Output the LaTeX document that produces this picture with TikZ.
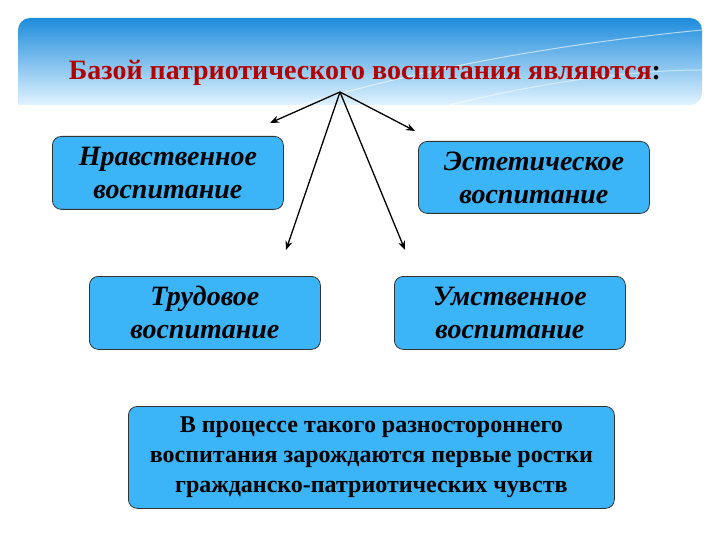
\documentclass[tikz,border=0pt]{standalone}
\usepackage{fontspec}
\setmainfont{Liberation Serif}
\usetikzlibrary{arrows.meta}
\begin{document}
\begin{tikzpicture}[x=1pt,y=-1pt,
  box/.style={draw=black!80,line width=0.8pt,fill={rgb,255:red,59;green,180;blue,248},rounded corners=9pt,align=center,font=\fontsize{28}{33}\selectfont\bfseries\itshape,anchor=north west,inner sep=0pt},
  arr/.style={-{Stealth[length=9pt,width=7pt]},line width=1.3pt}]
\useasboundingbox (0,0) rectangle (720,540);
\fill[white] (0,0) rectangle (720,540);
\shade[top color={rgb,255:red,30;green,140;blue,220},bottom color={rgb,255:red,225;green,243;blue,255},rounded corners=12pt] (18,105) -- (18,18) -- (702,18) -- (702,105) [sharp corners] -- cycle;
\draw[white,opacity=0.6,line width=1pt] (300,105) .. controls (450,60) and (600,40) .. (702,30);
\draw[white,opacity=0.5,line width=1pt] (450,105) .. controls (550,80) and (640,70) .. (702,70);
\node[font=\fontsize{28}{32}\selectfont\bfseries] (t) at (365,73) {\textcolor[rgb]{0.7,0,0}{Базой патриотического воспитания являются}:};
\coordinate (o) at (340,92);
\node[box,minimum width=231pt,minimum height=73pt] (a) at (52,136) {Нравственное\\воспитание};
\node[box,minimum width=231pt,minimum height=72pt] (b) at (418,141) {Эстетическое\\воспитание};
\node[box,minimum width=231pt,minimum height=73pt] (c) at (89,276) {Трудовое\\воспитание};
\node[box,minimum width=231pt,minimum height=73pt] (d) at (394,276) {Умственное\\воспитание};
\node[box,minimum width=486pt,minimum height=102pt,font=\fontsize{24}{30}\selectfont\bfseries] (e) at (128,406) {В процессе такого разностороннего\\воспитания зарождаются первые ростки\\гражданско-патриотических чувств};
\coordinate (pa) at (270,123);
\coordinate (pb) at (415,131);
\coordinate (pc) at (286,250);
\coordinate (pd) at (405,250);
\draw[arr] (o) -- (pa);
\draw[arr] (o) -- (pb);
\draw[arr] (o) -- (pc);
\draw[arr] (o) -- (pd);
\end{tikzpicture}
\end{document}
